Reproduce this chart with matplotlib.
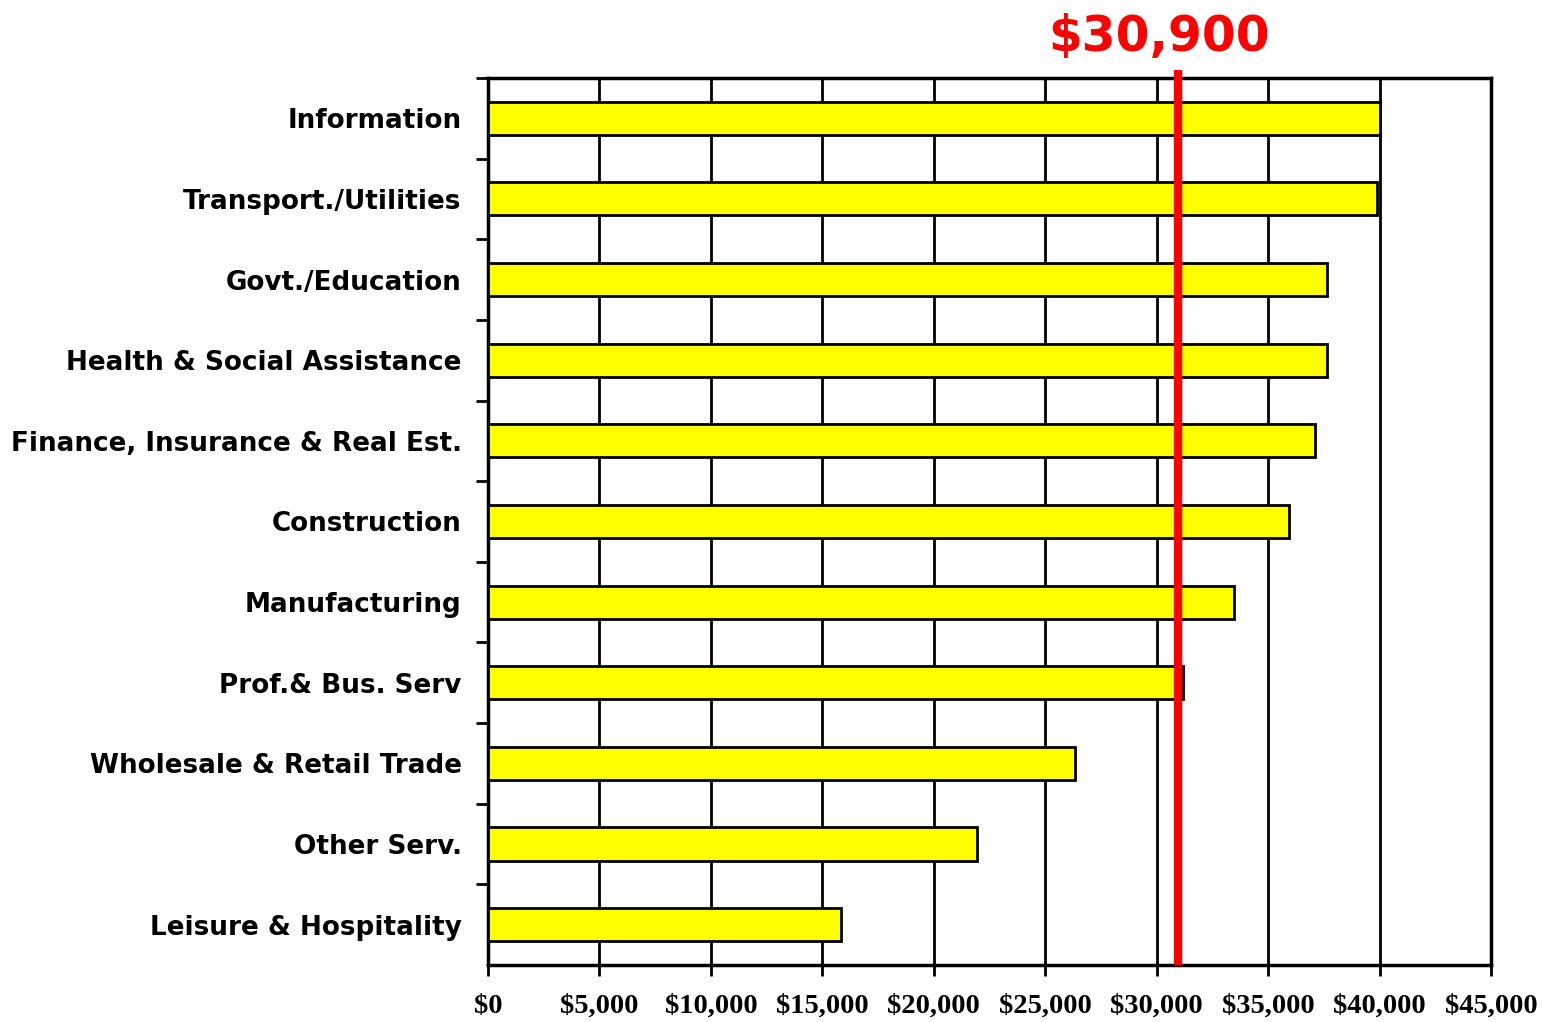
import matplotlib.pyplot as plt

# average annual wage by industry
industries = ["Information", "Transport./Utilities", "Govt./Education",
              "Health & Social Assistance", "Finance, Insurance & Real Est.",
              "Construction", "Manufacturing", "Prof.& Bus. Serv",
              "Wholesale & Retail Trade", "Other Serv.", "Leisure & Hospitality"]
wages = [40000, 39900, 37650, 37650, 37100, 35950, 33450, 31200, 26350, 21950, 15850]

ref_value = 30950
ref_label = "$30,900"

xticks = list(range(0, 45001, 5000))
xtick_labels = ["$0", "$5,000", "$10,000", "$15,000", "$20,000", "$25,000",
                "$30,000", "$35,000", "$40,000", "$45,000"]

fig = plt.figure(figsize=(15.42, 10.22), dpi=100)
ax = fig.add_axes([0.3165, 0.0558, 0.6504, 0.8679])

pos = list(range(len(industries)))[::-1]
ax.barh(pos, wages, height=0.41, color="#FFFF00", edgecolor="black",
        linewidth=2, zorder=3)

ax.set_xlim(0, 45000)
ax.set_ylim(-0.5, len(industries) - 0.5)

ax.set_xticks(xticks)
ax.set_xticklabels(xtick_labels, family="Liberation Serif", fontweight="bold",
                   fontsize=20.5)
ax.tick_params(axis="x", length=8, width=2, pad=13)

# category labels at bar centres, tick marks at category boundaries
ax.set_yticks(pos)
ax.set_yticklabels(industries, family="DejaVu Sans", fontweight="bold",
                   fontsize=18.9)
ax.tick_params(axis="y", which="major", length=0, pad=19)
ax.set_yticks([p + 0.5 for p in range(len(industries))], minor=True)
ax.tick_params(axis="y", which="minor", length=9, width=2)

ax.grid(axis="x", color="black", linewidth=2, zorder=1)
for s in ax.spines.values():
    s.set_linewidth(2.5)

# reference line
ax.plot([ref_value, ref_value], [-0.5, len(industries) - 0.4], color="#FF0000",
        linewidth=6, zorder=4, clip_on=False, solid_capstyle="butt")
fig.text(0.7516, 0.9505, ref_label, color="#FF0000",
         fontsize=35, fontweight="bold", family="DejaVu Sans",
         ha="center", va="baseline")

fig.savefig("out.png", dpi=100)
